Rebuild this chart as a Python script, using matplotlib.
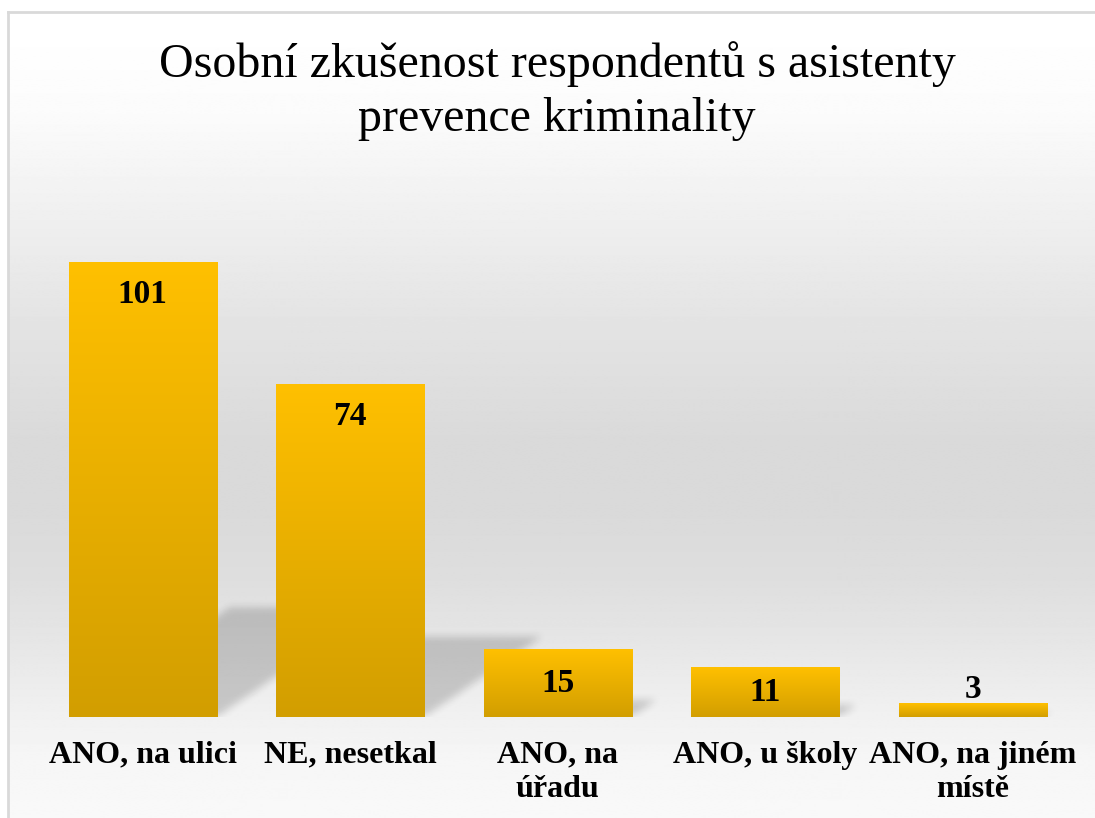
import numpy as np
import matplotlib.pyplot as plt
from matplotlib.colors import LinearSegmentedColormap
from matplotlib.path import Path

# Daten
kategorie = ["ANO, na ulici", "NE, nesetkal", "ANO, na\núřadu", "ANO, u školy", "ANO, na jiném\nmístě"]
pocty = [101, 74, 15, 11, 3]
titulek = "Osobní zkušenost respondentů s asistenty\nprevence kriminality"

W, H = 1095, 818
fig = plt.figure(figsize=(W / 100, H / 100), dpi=100)
plt.rcParams['font.family'] = ['Liberation Serif', 'DejaVu Serif']

# Hintergrund: vertikaler Grauverlauf mit Rahmen
bg = fig.add_axes([0, 0, 1, 1])
bg.axis('off')
py = np.arange(H)
stops_y = [0, 12, 100, 200, 300, 420, 500, 560, 620, 680, 740, 818]
stops_v = [1.0, 1.0, 0.985, 0.94, 0.895, 0.855, 0.855, 0.87, 0.9, 0.935, 0.965, 0.98]
grau = np.interp(py, stops_y, stops_v)
verlauf = np.repeat(grau[:, None], 2, axis=1)
bg.imshow(verlauf, cmap='gray', vmin=0, vmax=1, extent=(8, W + 20, H + 20, 12),
          aspect='auto', zorder=0)
bg.set_xlim(0, W)
bg.set_ylim(H, 0)
bg.plot([8, W + 20], [12, 12], color='#d9d9d9', lw=2, zorder=1)
bg.plot([8, 8], [12, H + 20], color='#d9d9d9', lw=2, zorder=1)

# Diagrammbereich (Pixel -> Figurkoordinaten)
x_links, x_rechts = 38.75, 1076.75
y_basis = 717
px_pro_wert = 4.505
y_max = 110
ax = fig.add_axes([x_links / W, (H - y_basis) / H,
                   (x_rechts - x_links) / W, y_max * px_pro_wert / H])
ax.set_xlim(-0.5, len(pocty) - 0.5)
ax.set_ylim(0, y_max)
ax.patch.set_alpha(0)
for s in ax.spines.values():
    s.set_visible(False)
ax.set_yticks([])

x = np.arange(len(pocty))
breite = 0.713
balken = ax.bar(x, pocty, width=breite, color='none', zorder=3)

# Schatten: schraeg nach rechts oben, weichgezeichnet
px_pro_kat = (x_rechts - x_links) / len(pocty)
nx, ny = int(x_rechts - x_links), 140
gx = np.linspace(-0.5, len(pocty) - 0.5, nx)
gy = np.linspace(0, ny / px_pro_wert, ny)
GX, GY = np.meshgrid(gx, gy)
punkte = np.column_stack([GX.ravel(), GY.ravel()])
maske = np.zeros(GX.size)
for xi, v in zip(x, pocty):
    h = 0.24 * v
    dx = 1.47 * h * px_pro_wert / px_pro_kat
    x0, x1 = xi - breite / 2, xi + breite / 2
    poly = Path([(x0, 0), (x1, 0), (x1 + dx, h), (x0 + dx, h), (x0, 0)])
    maske = np.maximum(maske, poly.contains_points(punkte))
maske = maske.reshape(GX.shape)
kern = np.ones(9) / 9
for _ in range(2):
    maske = np.apply_along_axis(lambda r: np.convolve(r, kern, mode='same'), 1, maske)
    maske = np.apply_along_axis(lambda c: np.convolve(c, kern, mode='same'), 0, maske)
schatten = np.zeros((ny, nx, 4))
schatten[..., 3] = 0.17 * maske
ax.imshow(schatten, extent=(-0.5, len(pocty) - 0.5, 0, ny / px_pro_wert),
          origin='lower', aspect='auto', zorder=1, interpolation='bilinear')

# Balken mit Farbverlauf
cmap = LinearSegmentedColormap.from_list('gold', ['#d29e00', '#ffc000'])
for b in balken:
    x0, w, h = b.get_x(), b.get_width(), b.get_height()
    im = ax.imshow(np.linspace(0, 1, 256)[:, None], cmap=cmap, origin='lower',
                   extent=(x0, x0 + w, 0, h), aspect='auto', zorder=2)
    im.set_clip_path(b)
ax.set_xlim(-0.5, len(pocty) - 0.5)
ax.set_ylim(0, y_max)

# Wertbeschriftung
off = 33 / px_pro_wert
for xi, v in zip(x, pocty):
    hp = v * px_pro_wert
    if hp > 70:
        yt = v - off
    elif hp > 30:
        yt = v / 2
    else:
        yt = v + 14 / px_pro_wert
    ax.text(xi, yt, str(v), ha='center', va='center', fontsize=24,
            fontweight='bold', color='black', zorder=4)

# Achsenbeschriftung
ax.set_xticks(x)
ax.set_xticklabels(kategorie, fontsize=23, fontweight='bold', linespacing=1.23)
ax.tick_params(axis='x', length=0, pad=17)

fig.text(557 / W, 1 - 91 / H, titulek, ha='center', va='center', fontsize=34.5,
         linespacing=1.3)

plt.savefig('out.png', dpi=100)
